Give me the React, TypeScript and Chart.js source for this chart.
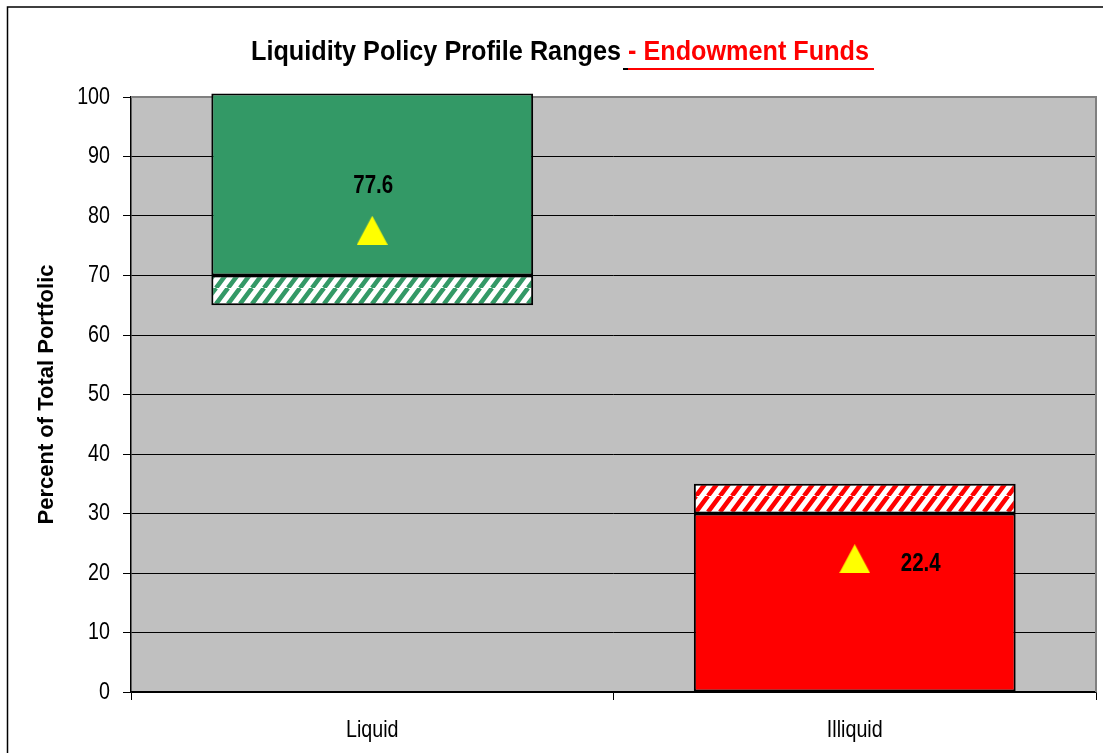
import React, { useEffect, useRef } from "react";
import { Chart, registerables } from "chart.js";

Chart.register(...registerables);

// ---- data ----
const categories = ["Liquid", "Illiquid"];
const solidRanges: [number, number][] = [[70, 100.6], [0, 30]];
const hatchRanges: [number, number][] = [[65, 70], [30, 35]];
const currentValues = [77.6, 22.4];
const currentLabels = ["77.6", "22.4"];
const yMin = 0;
const yMax = 100;
const yStep = 10;
const titleMain = "Liquidity Policy Profile Ranges";
const titleSub = "- Endowment Funds";
const yTitle = "Percent of Total Portfolic";

// ---- styles ----
const GREEN = "#339966";
const RED = "#FF0000";
const YELLOW = "#FFFF00";
const PLOT_BG = "#C0C0C0";
const SANS = "'Liberation Sans', Arial, sans-serif";
const NARROW_X = 0.82; // horizontal squeeze to imitate Arial Narrow
const labelOffsets = [
  { dx: 1, dy: -44 },
  { dx: 66, dy: 5 },
];

function makeHatch(color: string): CanvasPattern | string {
  const w = 12;
  const h = 16;
  const c = document.createElement("canvas");
  c.width = w;
  c.height = h;
  const g = c.getContext("2d");
  if (!g) return color;
  g.fillStyle = "#ffffff";
  g.fillRect(0, 0, w, h);
  g.strokeStyle = color;
  g.lineWidth = 4.6;
  g.beginPath();
  for (let k = -1; k <= 1; k++) {
    g.moveTo(k * w, h);
    g.lineTo(k * w + w, 0);
  }
  g.stroke();
  return g.createPattern(c, "repeat") || color;
}

function makeTriangle(): HTMLCanvasElement {
  const c = document.createElement("canvas");
  c.width = 31;
  c.height = 29;
  const g = c.getContext("2d");
  if (g) {
    g.fillStyle = YELLOW;
    g.beginPath();
    g.moveTo(15.5, 0);
    g.lineTo(31, 29);
    g.lineTo(0, 29);
    g.closePath();
    g.fill();
  }
  return c;
}

function narrowText(
  ctx: CanvasRenderingContext2D,
  text: string,
  x: number,
  y: number,
  font: string,
  align: CanvasTextAlign,
  sx: number = NARROW_X
) {
  ctx.save();
  ctx.font = font;
  ctx.textAlign = align;
  ctx.textBaseline = "middle";
  ctx.translate(x, y);
  ctx.scale(sx, 1);
  ctx.fillText(text, 0, 0);
  ctx.restore();
}

const decorPlugin = {
  id: "decor",
  beforeDraw(chart: any) {
    const { ctx, chartArea } = chart;
    ctx.save();
    ctx.fillStyle = "#ffffff";
    ctx.fillRect(0, 0, chart.width, chart.height);
    // outer chart border
    ctx.strokeStyle = "#000000";
    ctx.lineWidth = 1.5;
    ctx.beginPath();
    ctx.moveTo(7.5, chart.height + 5);
    ctx.lineTo(7.5, 7);
    ctx.lineTo(chart.width + 5, 7);
    ctx.stroke();
    // plot background
    ctx.fillStyle = PLOT_BG;
    ctx.fillRect(chartArea.left, chartArea.top, chartArea.right - chartArea.left, chartArea.bottom - chartArea.top);
    ctx.restore();
  },
  beforeDatasetsDraw(chart: any) {
    const { ctx, chartArea } = chart;
    ctx.save();
    ctx.strokeStyle = "#808080";
    ctx.lineWidth = 2;
    ctx.beginPath();
    ctx.moveTo(chartArea.left, chartArea.top);
    ctx.lineTo(chartArea.right, chartArea.top);
    ctx.lineTo(chartArea.right, chartArea.bottom);
    ctx.stroke();
    ctx.restore();
  },
  afterDraw(chart: any) {
    const { ctx, chartArea } = chart;
    ctx.save();
    ctx.fillStyle = "#000000";

    // y tick labels
    const ys = chart.scales.y;
    ys.ticks.forEach((t: any, i: number) => {
      narrowText(ctx, String(t.label), 110, ys.getPixelForTick(i), `24px ${SANS}`, "right");
    });
    // x tick labels
    const xs = chart.scales.x;
    categories.forEach((c, i) => {
      narrowText(ctx, c, xs.getPixelForTick(i), 730, `24px ${SANS}`, "center");
    });

    // title
    const fontT = `bold 28px ${SANS}`;
    ctx.font = fontT;
    const rawW1 = ctx.measureText(titleMain).width;
    const sxT = 370 / rawW1;
    const x0 = 251;
    const yb = 60;
    const w1 = rawW1 * sxT;
    const wSpace = ctx.measureText(" ").width * sxT;
    const w2 = ctx.measureText(titleSub).width * sxT;
    ctx.save();
    ctx.textBaseline = "alphabetic";
    ctx.textAlign = "left";
    ctx.translate(x0, yb);
    ctx.scale(sxT, 1);
    ctx.fillStyle = "#000000";
    ctx.fillText(titleMain, 0, 0);
    ctx.fillStyle = RED;
    ctx.fillText(titleSub, (w1 + wSpace) / sxT, 0);
    ctx.restore();
    const xSub = x0 + w1 + wSpace;
    ctx.fillStyle = "#000000";
    ctx.fillRect(x0 + w1 + 2, yb + 8, wSpace, 2);
    ctx.fillStyle = RED;
    ctx.fillRect(xSub, yb + 8, w2 + 5, 2);

    // y-axis title
    ctx.save();
    ctx.translate(47, (chartArea.top + chartArea.bottom) / 2);
    ctx.rotate(-Math.PI / 2);
    ctx.textAlign = "center";
    ctx.textBaseline = "middle";
    ctx.fillStyle = "#000000";
    ctx.font = `bold 22px ${SANS}`;
    ctx.fillText(yTitle, 0, 0);
    ctx.restore();

    // value labels
    const meta = chart.getDatasetMeta(2);
    ctx.fillStyle = "#000000";
    meta.data.forEach((pt: any, i: number) => {
      const off = labelOffsets[i];
      narrowText(ctx, currentLabels[i], pt.x + off.dx, pt.y + off.dy, `bold 25px ${SANS}`, "center");
    });
    ctx.restore();
  },
};

export default function App() {
  const ref = useRef<HTMLCanvasElement | null>(null);
  useEffect(() => {
    if (!ref.current) return;
    const greenHatch = makeHatch(GREEN);
    const redHatch = makeHatch(RED);
    const tri = makeTriangle();
    const chart = new Chart(ref.current, {
      type: "bar",
      data: {
        labels: categories,
        datasets: [
          {
            type: "bar",
            label: "Range",
            data: solidRanges as any,
            backgroundColor: [GREEN, RED],
            borderColor: "#000000",
            borderWidth: 2,
            borderSkipped: false,
            grouped: false,
            categoryPercentage: 1,
            barPercentage: 0.667,
            order: 2,
            clip: false as any,
          },
          {
            type: "bar",
            label: "Tolerance",
            data: hatchRanges as any,
            backgroundColor: [greenHatch, redHatch] as any,
            borderColor: "#000000",
            borderWidth: 2,
            borderSkipped: false,
            grouped: false,
            categoryPercentage: 1,
            barPercentage: 0.667,
            order: 1,
          },
          {
            type: "line",
            label: "Current",
            data: currentValues,
            showLine: false,
            pointStyle: tri as any,
            pointRadius: 15,
            pointHoverRadius: 15,
            order: 0,
          } as any,
        ],
      },
      options: {
        animation: false,
        responsive: false,
        devicePixelRatio: 1,
        events: [],
        layout: { autoPadding: false, padding: { top: 97, right: 7, left: 0, bottom: 0 } },
        plugins: {
          legend: { display: false },
          title: { display: false },
          tooltip: { enabled: false },
        },
        scales: {
          x: {
            type: "category",
            offset: true,
            grid: {
              display: true,
              offset: true,
              drawOnChartArea: false,
              drawTicks: true,
              tickLength: 8,
              color: "#000000",
              lineWidth: 1,
            },
            border: { display: true, color: "#000000", width: 1.5 },
            ticks: { display: false },
            afterFit(scale: any) {
              scale.height = 61;
              scale.paddingLeft = 0;
              scale.paddingRight = 0;
            },
          },
          y: {
            min: yMin,
            max: yMax,
            grid: {
              color: "#000000",
              lineWidth: 1,
              tickLength: 8,
              drawTicks: true,
            },
            border: { display: true, color: "#000000", width: 1.5 },
            ticks: { stepSize: yStep, display: false },
            afterFit(scale: any) {
              scale.width = 131;
              scale.paddingTop = 0;
              scale.paddingBottom = 0;
            },
          },
        },
      } as any,
      plugins: [decorPlugin],
    });
    return () => chart.destroy();
  }, []);
  return (
    <div style={{ position: "absolute", left: 0, top: 0, width: 1103, height: 753 }}>
      <canvas ref={ref} width={1103} height={753} style={{ display: "block" }} />
    </div>
  );
}
